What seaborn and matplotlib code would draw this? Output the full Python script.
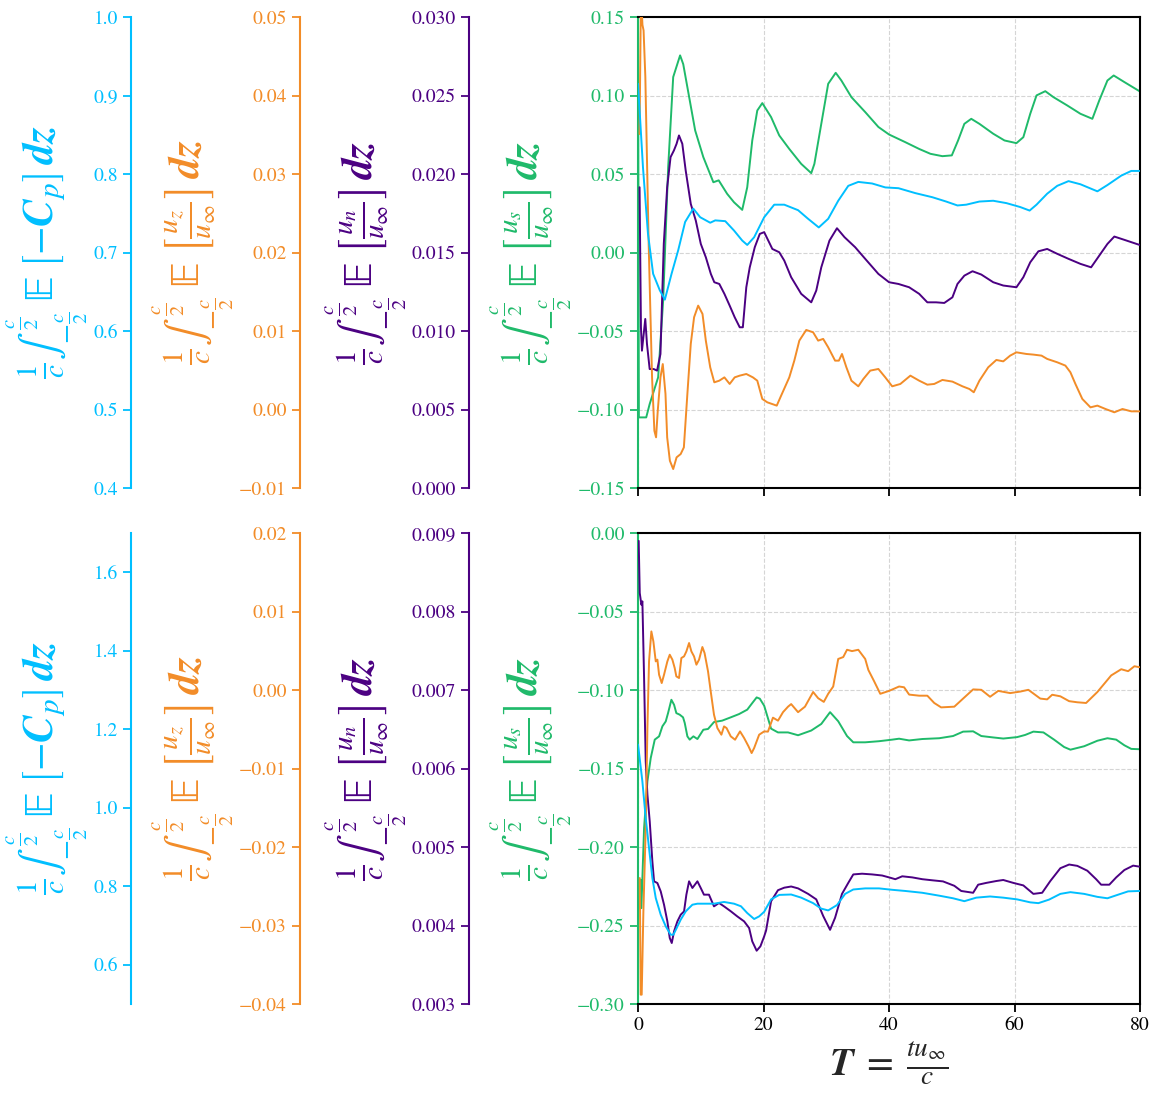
import numpy as np
import matplotlib
matplotlib.use('Agg')
import matplotlib.pyplot as plt
import seaborn as sns

# ---- upper panel (time series, each on its own axis) ----
top_green_t = [0.0, 0.13, 1.3, 1.85, 3.2, 4.0, 4.8, 5.6, 6.7, 7.2, 9.1, 10.4, 12.0, 12.85, 14.2, 15.3, 16.6, 17.4, 18.2, 19.0,
               19.8, 21.2, 22.5, 24.1, 26.0, 27.6, 28.1, 29.2, 30.3, 31.5, 32.4, 34.0, 36.2, 38.3, 40.0, 42.6, 44.8, 46.6, 48.5, 50.0,
               51.0, 52.0, 53.1, 54.4, 56.6, 58.4, 60.3, 61.4, 62.5, 63.5, 64.9, 66.2, 68.4, 70.5, 72.4, 73.5, 74.8, 75.8, 77.5, 79.9]
top_green_v = [0.14, -0.105, -0.105, -0.0965, -0.0795, -0.0306, 0.0544, 0.1118, 0.1256, 0.120, 0.0778, 0.0608, 0.0448, 0.046, 0.0374,
               0.032, 0.0272, 0.0416, 0.0714, 0.0905, 0.0952, 0.0863, 0.0746, 0.066, 0.0565, 0.0506, 0.0565, 0.082, 0.1075, 0.1145,
               0.1096, 0.099, 0.0895, 0.080, 0.0752, 0.0703, 0.066, 0.0629, 0.0614, 0.0619, 0.0714, 0.082, 0.0852, 0.082, 0.0757,
               0.0714, 0.0697, 0.0735, 0.0884, 0.1001, 0.1028, 0.099, 0.0937, 0.0884, 0.0852, 0.0969, 0.1096, 0.1128, 0.1086, 0.1028]

top_cyan_t = [0.0, 0.78, 1.58, 2.4, 3.46, 4.27, 5.34, 6.4, 7.5, 8.8, 9.9, 11.5, 12.3, 13.9, 15.3, 16.6, 17.4, 18.5, 20.1, 21.7,
              23.3, 25.5, 27.1, 28.8, 30.3, 31.9, 33.5, 35.1, 37.3, 39.4, 41.5, 44.2, 46.9, 49.1, 50.9, 52.3, 54.4, 56.6, 58.7, 60.9,
              62.4, 63.5, 65.2, 66.8, 68.6, 70.5, 73.2, 74.8, 77.0, 78.6, 79.9]
top_cyan_v = [0.915, 0.809, 0.724, 0.673, 0.652, 0.640, 0.673, 0.703, 0.739, 0.756, 0.745, 0.738, 0.741, 0.740, 0.728, 0.7153,
              0.7097, 0.7195, 0.745, 0.761, 0.761, 0.754, 0.743, 0.732, 0.743, 0.766, 0.785, 0.790, 0.788, 0.783, 0.782, 0.7757,
              0.7705, 0.765, 0.760, 0.761, 0.765, 0.766, 0.763, 0.758, 0.7535, 0.761, 0.775, 0.785, 0.791, 0.787, 0.778, 0.786,
              0.798, 0.804, 0.804]

top_purple_t = [0.24, 0.46, 0.62, 1.15, 1.42, 1.85, 2.49, 3.03, 3.57, 4.10, 4.64, 5.18, 5.71, 6.14, 6.52, 7.05, 7.59, 8.4, 9.2, 10.0,
                10.8, 11.6, 12.15, 12.95, 13.76, 14.6, 15.4, 16.2, 16.7, 17.25, 17.8, 18.6, 19.4, 20.1, 21.4, 22.5, 23.3, 24.4, 26.0,
                27.6, 28.4, 29.2, 30.5, 31.7, 32.9, 34.6, 36.2, 38.3, 40.0, 41.5, 43.2, 44.8, 46.1, 47.5, 48.8, 50.1, 50.9, 52.0,
                53.3, 54.7, 56.6, 58.2, 60.3, 61.4, 62.5, 63.8, 65.2, 66.8, 68.6, 70.5, 72.2, 73.7, 74.8, 75.9, 77.5, 79.9]
top_purple_v = [0.01916, 0.01024, 0.00875, 0.01077, 0.00918, 0.00758, 0.00758, 0.00748, 0.00854, 0.01555, 0.01916, 0.02108,
                0.0215, 0.02193, 0.02246, 0.02193, 0.02023, 0.0181, 0.01704, 0.01555, 0.0147, 0.01364, 0.01311, 0.0130, 0.01237,
                0.01162, 0.01088, 0.01024, 0.01024, 0.01279, 0.01406, 0.01534, 0.01619, 0.0163, 0.01523, 0.01502, 0.01449,
                0.01343, 0.01237, 0.01183, 0.01258, 0.01406, 0.01576, 0.01655, 0.01598, 0.01534, 0.0146, 0.01364, 0.01311,
                0.0130, 0.01279, 0.01237, 0.01183, 0.01183, 0.01179, 0.01215, 0.0130, 0.01353, 0.01381, 0.0136, 0.01311, 0.0129,
                0.01279, 0.01343, 0.01438, 0.01508, 0.01523, 0.01492, 0.0146, 0.01428, 0.01406, 0.01492, 0.01555, 0.01602,
                0.01581, 0.01549]

top_orange_t = [0.24, 0.46, 0.7, 0.88, 1.16, 1.69, 2.23, 2.6, 2.87, 3.14, 3.57, 3.94, 4.37, 4.64, 5.07, 5.6, 6.14, 6.79, 7.3, 7.86,
                8.4, 8.93, 9.58, 10.27, 10.8, 11.5, 12.15, 12.95, 13.76, 14.6, 15.4, 16.2, 17.25, 18.3, 19.0, 19.8, 20.6, 22.1,
                22.8, 24.1, 24.9, 25.7, 26.8, 27.9, 28.7, 29.5, 30.3, 31.4, 32.0, 32.5, 33.2, 34.0, 35.1, 35.9, 37.0, 38.3, 39.4,
                40.5, 41.8, 43.4, 44.8, 46.1, 47.2, 48.5, 50.1, 51.7, 52.8, 53.5, 54.4, 55.8, 57.1, 58.2, 59.3, 60.3, 61.9, 63.0,
                64.3, 65.2, 66.8, 68.1, 68.9, 69.7, 70.8, 72.1, 73.2, 74.5, 75.9, 77.2, 78.6, 79.9]
top_orange_v = [0.0351, 0.053, 0.049, 0.0483, 0.0424, 0.0211, 0.0041, -0.0027, -0.00354, -0.00014, 0.0041, 0.0058, 0.002,
                -0.00354, -0.00652, -0.00758, -0.00609, -0.00567, -0.00482, 0.002, 0.00836, 0.01176, 0.01324, 0.01218, 0.00878,
                0.00538, 0.00347, 0.00368, 0.0041, 0.00326, 0.0041, 0.00432, 0.00453, 0.0041, 0.00368, 0.00135, 0.00092, 0.0005,
                0.00177, 0.0041, 0.00623, 0.00878, 0.01014, 0.00984, 0.00878, 0.009, 0.00793, 0.00623, 0.00623, 0.00708, 0.00538,
                0.00368, 0.00296, 0.00389, 0.00496, 0.00517, 0.0041, 0.00296, 0.00326, 0.00432, 0.00368, 0.00317, 0.00326,
                0.00377, 0.00356, 0.00296, 0.00262, 0.0022, 0.00368, 0.00538, 0.00632, 0.00614, 0.00687, 0.00729, 0.00708, 0.007,
                0.00687, 0.00645, 0.00602, 0.0056, 0.00475, 0.00326, 0.00135, 0.00028, 0.0005, 0.00007, -0.00035, 0.00007,
                -0.00023, -0.00023]

# ---- lower panel ----
bot_green_t = [0.32, 0.37, 0.53, 0.96, 1.49, 2.02, 2.66, 3.35, 3.88, 4.41, 4.78, 5.31, 5.74, 6.1, 6.64, 7.17, 7.44, 7.86, 8.23,
               8.82, 9.46, 10.4, 11.15, 12.1, 13.4, 14.77, 16.1, 17.4, 18.2, 18.9, 19.4, 20.1, 21.2, 22.3, 23.9, 25.5, 27.6, 29.2,
               30.6, 31.9, 33.3, 34.3, 36.2, 38.4, 40.5, 41.6, 43.2, 45.3, 48.0, 50.2, 51.8, 53.4, 54.7, 56.6, 58.2, 60.4, 61.7,
               63.0, 64.6, 66.3, 67.9, 68.9, 71.1, 73.2, 74.8, 76.2, 77.5, 78.6, 79.9]
bot_green_v = [-0.2389, -0.2208, -0.2389, -0.1879, -0.1582, -0.1433, -0.1316, -0.1295, -0.1231, -0.12, -0.1147, -0.1062,
               -0.1094, -0.1147, -0.1157, -0.1174, -0.121, -0.1295, -0.1316, -0.1295, -0.1312, -0.1253, -0.1248, -0.1204,
               -0.1195, -0.1174, -0.1153, -0.1125, -0.1083, -0.1047, -0.1055, -0.11, -0.1246, -0.127, -0.127, -0.1288, -0.1258,
               -0.1216, -0.1141, -0.1199, -0.1293, -0.1333, -0.1333, -0.1326, -0.1316, -0.131, -0.1321, -0.1312, -0.1307,
               -0.1293, -0.1265, -0.1263, -0.1293, -0.1302, -0.1309, -0.13, -0.1286, -0.1265, -0.127, -0.1316, -0.1363, -0.138,
               -0.1358, -0.1323, -0.1307, -0.1316, -0.1352, -0.1375, -0.1377]

bot_cyan_t = [0.0, 0.69, 1.22, 1.75, 2.28, 2.82, 3.61, 4.41, 5.2, 5.63, 6.16, 6.8, 7.6, 8.13, 8.66, 9.46, 10.5, 12.1, 13.7, 15.3,
              16.4, 17.4, 18.5, 19.3, 20.1, 21.2, 22.5, 24.4, 26.0, 27.9, 29.2, 30.3, 31.7, 33.0, 34.3, 36.2, 38.4, 40.5, 42.6,
              45.3, 48.0, 50.2, 52.0, 53.9, 56.1, 58.2, 60.4, 62.5, 63.8, 65.5, 67.3, 68.9, 71.1, 73.2, 74.8, 76.4, 78.1, 79.9]
bot_cyan_v = [1.161, 1.067, 0.974, 0.897, 0.821, 0.770, 0.7276, 0.698, 0.6766, 0.6766, 0.6937, 0.715, 0.736, 0.7446, 0.753,
              0.7556, 0.7556, 0.7556, 0.76, 0.7556, 0.749, 0.7318, 0.7166, 0.7233, 0.735, 0.7666, 0.778, 0.779, 0.771, 0.757,
              0.743, 0.7385, 0.752, 0.7806, 0.7918, 0.7946, 0.7946, 0.791, 0.788, 0.7834, 0.776, 0.7694, 0.762, 0.771, 0.774,
              0.771, 0.7666, 0.759, 0.757, 0.766, 0.7806, 0.785, 0.7806, 0.773, 0.7694, 0.778, 0.787, 0.788]

bot_purple_t = [0.1, 0.27, 0.53, 0.69, 0.96, 1.22, 1.49, 1.86, 2.28, 2.55, 3.08, 3.61, 4.14, 4.67, 5.05, 5.37, 5.74, 6.27, 6.8,
                7.33, 7.7, 8.13, 8.66, 9.46, 9.99, 10.5, 11.3, 12.1, 12.9, 13.7, 14.8, 15.8, 16.9, 17.7, 18.2, 18.9, 19.5, 20.1,
                20.4, 21.2, 22.3, 23.3, 24.4, 25.5, 27.1, 28.4, 29.5, 30.6, 31.4, 32.5, 33.5, 34.3, 35.7, 37.3, 38.9, 40.0, 41.0,
                42.1, 43.7, 45.3, 46.9, 48.6, 50.4, 51.5, 53.4, 54.2, 55.5, 57.1, 58.2, 59.8, 61.4, 63.0, 64.4, 65.7, 67.3, 68.7,
                70.0, 71.6, 73.0, 73.8, 75.1, 76.2, 77.5, 78.9, 79.9]
bot_purple_v = [0.0089, 0.008236, 0.008087, 0.00813, 0.007153, 0.006091, 0.005667, 0.005327, 0.004817, 0.004563, 0.004541,
                0.004435, 0.004265, 0.004053, 0.003841, 0.003777, 0.003926, 0.004053, 0.004138, 0.00418, 0.004393, 0.004563,
                0.004478, 0.004563, 0.004478, 0.004393, 0.004393, 0.004244, 0.004287, 0.004244, 0.00418, 0.004117, 0.004053,
                0.003968, 0.003798, 0.003679, 0.003735, 0.003862, 0.003935, 0.004309, 0.00445, 0.004482, 0.004497, 0.004473,
                0.004403, 0.004333, 0.004122, 0.003945, 0.004099, 0.004403, 0.004543, 0.004651, 0.00466, 0.004651, 0.004637,
                0.004613, 0.00459, 0.004627, 0.004613, 0.00459, 0.004576, 0.004562, 0.004506, 0.00444, 0.004417, 0.00452,
                0.004543, 0.004567, 0.00458, 0.004543, 0.004511, 0.004403, 0.004417, 0.004567, 0.00473, 0.004777, 0.00476,
                0.004698, 0.00459, 0.00452, 0.00452, 0.004613, 0.004707, 0.004763, 0.00475]

bot_orange_t = [0.27, 0.42, 0.58, 0.85, 1.22, 1.49, 1.75, 2.12, 2.44, 2.82, 3.08, 3.35, 3.77, 4.14, 4.67, 5.05, 5.47, 5.84, 6.1,
                6.53, 6.9, 7.33, 7.7, 8.13, 8.5, 8.92, 9.3, 9.72, 10.25, 10.6, 11.15, 11.58, 12.1, 12.64, 13.28, 13.7, 14.1, 14.77,
                15.46, 16.25, 16.9, 17.6, 18.1, 18.5, 19.3, 20.1, 20.7, 21.5, 22.3, 23.1, 23.9, 24.4, 25.5, 26.6, 27.9, 28.7, 29.6,
                30.3, 31.1, 31.9, 32.7, 33.3, 34.1, 35.1, 36.2, 36.7, 37.6, 38.6, 40.0, 41.6, 42.4, 43.2, 44.8, 46.1, 47.2, 48.3,
                50.4, 51.8, 53.4, 54.7, 56.1, 57.4, 59.3, 60.9, 62.2, 64.1, 65.2, 66.0, 67.3, 68.7, 70.0, 71.4, 73.2, 75.4, 77.0,
                78.1, 79.1, 79.9]
bot_orange_v = [-0.02395, -0.03881, -0.03881, -0.0282, -0.01758, -0.00484, 0.00365, 0.00747, 0.0062, 0.00365, 0.00387,
                0.00195, 0.00089, 0.00195, 0.00365, 0.0045, 0.00387, 0.0028, 0.00174, 0.00153, 0.00408, 0.00429, 0.00492,
                0.00599, 0.00492, 0.00429, 0.00323, 0.00387, 0.00548, 0.00471, 0.00238, -0.00017, -0.00314, -0.00484, -0.00569,
                -0.00463, -0.00484, -0.0059, -0.00633, -0.00527, -0.00611, -0.00717, -0.00803, -0.00739, -0.00569, -0.00527,
                -0.0053, -0.00352, -0.0039, -0.00282, -0.00212, -0.00179, -0.00282, -0.00212, -0.00025, -0.00104, -0.00151,
                -0.00048, 0.00045, 0.00396, 0.0042, 0.00513, 0.00496, 0.00513, 0.00396, 0.00256, 0.00115, -0.00048, -0.00011,
                0.00045, 0.00035, -0.00058, -0.00072, -0.00072, -0.00165, -0.00221, -0.00212, -0.00109, 0.00008, 0.00003,
                -0.00086, -0.00011, -0.00039, -0.0002, 0.00003, -0.00109, -0.00119, -0.0006, -0.0008, -0.00142, -0.00156,
                -0.00165, -0.00025, 0.00186, 0.00265, 0.0024, 0.00303, 0.00291]

x_ticks = [0, 20, 40, 60, 80]

CYAN = '#00BFFF'
ORANGE = '#F28C28'
PURPLE = '#4B0082'
GREEN = '#1FBA6A'

sns.set_style('ticks')
plt.rcParams['font.family'] = ['STIXGeneral', 'DejaVu Sans']
plt.rcParams['mathtext.fontset'] = 'stix'

INT = r'\frac{1}{c}\int_{-\frac{c}{2}}^{\frac{c}{2}}\;\mathrm{\mathbb{E}}\;'
lab_cp = r'$' + INT + r'\left[-\mathbfit{C}_p\right]\,\mathbfit{dz}$'
lab_uz = r'$' + INT + r'\left[\frac{u_z}{u_\infty}\right]\,\mathbfit{dz}$'
lab_un = r'$' + INT + r'\left[\frac{u_n}{u_\infty}\right]\,\mathbfit{dz}$'
lab_us = r'$' + INT + r'\left[\frac{u_s}{u_\infty}\right]\,\mathbfit{dz}$'

LABEL_FS = 30
TICK_FS = 14
LW = 1.4


def make_panel(rect, green, cyan, orange, purple, limits, show_xlabel):
    ax = fig.add_axes(rect)
    ax.grid(True, ls='--', color='#d5d5d5', lw=0.8)
    sns.lineplot(x=green[0], y=green[1], ax=ax, color=GREEN, lw=LW, estimator=None, sort=False)
    ax.set_xlim(0, 80)
    ax.set_xticks(x_ticks)
    ax.set_ylim(*limits['green'][0])
    ax.set_yticks(limits['green'][1])
    for s in ['top', 'right', 'bottom']:
        ax.spines[s].set_color('black')
        ax.spines[s].set_linewidth(1.5)
    ax.spines['left'].set_color(GREEN)
    ax.spines['left'].set_linewidth(1.5)
    ax.tick_params(axis='y', colors=GREEN, labelsize=TICK_FS, length=6, width=1.3)
    ax.tick_params(axis='x', colors='black', labelsize=TICK_FS, length=6, width=1.3)
    ax.set_ylabel(lab_us, color=GREEN, fontsize=LABEL_FS, labelpad=2)
    if show_xlabel:
        ax.set_xlabel(r'$\mathbfit{T}\;=\;\frac{tu_\infty}{c}$', fontsize=28)
    else:
        ax.tick_params(axis='x', labelbottom=False)
        ax.set_xlabel('')

    for data, name, color, offset, label in [(purple, 'purple', PURPLE, -0.3367, lab_un),
                                             (orange, 'orange', ORANGE, -0.6733, lab_uz),
                                             (cyan, 'cyan', CYAN, -1.010, lab_cp)]:
        tw = ax.twinx()
        sns.lineplot(x=data[0], y=data[1], ax=tw, color=color, lw=LW, estimator=None, sort=False)
        tw.set_ylim(*limits[name][0])
        tw.set_yticks(limits[name][1])
        for s in ['top', 'right', 'bottom']:
            tw.spines[s].set_visible(False)
        tw.spines['left'].set_visible(True)
        tw.spines['left'].set_position(('axes', offset))
        tw.spines['left'].set_color(color)
        tw.spines['left'].set_linewidth(1.5)
        tw.yaxis.set_ticks_position('left')
        tw.yaxis.set_label_position('left')
        tw.tick_params(axis='y', colors=color, labelsize=TICK_FS, length=6, width=1.3)
        tw.set_ylabel(label, color=color, fontsize=LABEL_FS, labelpad=2)
        tw.set_xlabel('')
    return ax


fig = plt.figure(figsize=(11.58, 10.95), dpi=100)

top_limits = {
    'green': ((-0.15, 0.15), np.linspace(-0.15, 0.15, 7)),
    'cyan': ((0.4, 1.0), np.linspace(0.4, 1.0, 7)),
    'orange': ((-0.01, 0.05), np.linspace(-0.01, 0.05, 7)),
    'purple': ((0.0, 0.03), np.linspace(0.0, 0.03, 7)),
}
bot_limits = {
    'green': ((-0.30, 0.0), np.linspace(-0.30, 0.0, 7)),
    'cyan': ((0.5, 1.7), np.linspace(0.6, 1.6, 6)),
    'orange': ((-0.04, 0.02), np.linspace(-0.04, 0.02, 7)),
    'purple': ((0.003, 0.009), np.linspace(0.003, 0.009, 7)),
}

make_panel([0.551, 0.5543, 0.4335, 0.4301],
           (top_green_t, top_green_v), (top_cyan_t, top_cyan_v),
           (top_orange_t, top_orange_v), (top_purple_t, top_purple_v),
           top_limits, False)
make_panel([0.551, 0.0831, 0.4335, 0.4301],
           (bot_green_t, bot_green_v), (bot_cyan_t, bot_cyan_v),
           (bot_orange_t, bot_orange_v), (bot_purple_t, bot_purple_v),
           bot_limits, True)

fig.savefig('out.png', dpi=100)
